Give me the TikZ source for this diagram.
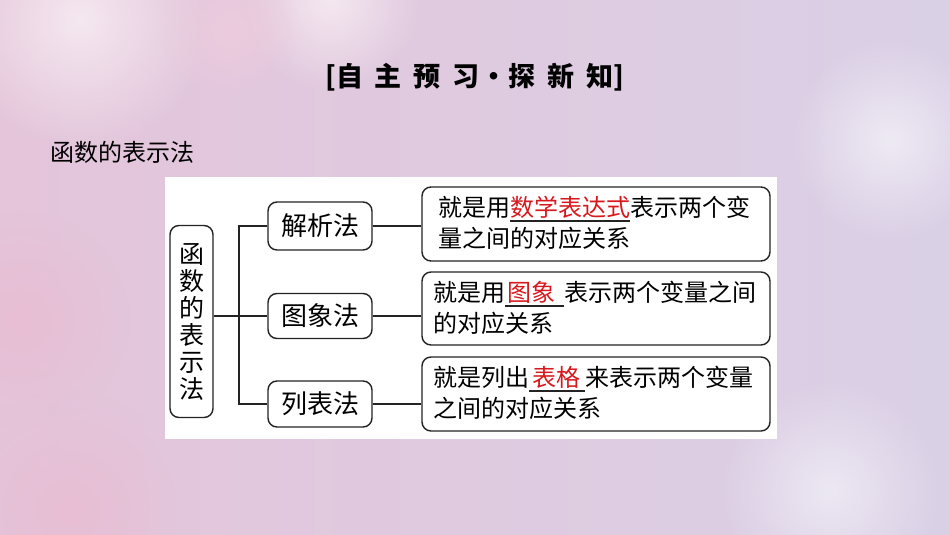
\documentclass[tikz,border=0pt]{standalone}
\usepackage{fontspec}
\newfontfamily\cjk{Noto Sans CJK SC}
\usetikzlibrary{fadings}
\tikzfading[name=softfade, inner color=transparent!0, outer color=transparent!100]
\definecolor{bgA}{RGB}{222,207,227}
\definecolor{bgB}{RGB}{218,208,230}
\definecolor{bgPink}{RGB}{232,190,212}
\definecolor{bgWhite}{RGB}{245,232,240}
\definecolor{lineC}{RGB}{35,35,35}
\definecolor{redT}{RGB}{215,25,30}
\tikzset{
  rbox/.style={draw=lineC, line width=1.4pt, rounded corners=9pt, fill=white},
  conn/.style={draw=lineC, line width=1.3pt},
  desc/.style={font=\cjk\fontsize{24}{31}\selectfont, align=left, anchor=north west, inner sep=0pt},
}
\newcommand{\ulred}[3]{\leavevmode\setbox0\hbox{\hspace{#1}\textcolor{redT}{#3}\hspace{#2}}\rlap{\color{lineC}\rule[-5pt]{\wd0}{1.1pt}}\box0}
\begin{document}
\begin{tikzpicture}[x=1pt,y=-1pt]
\useasboundingbox (0,0) rectangle (950,535);
% background
\shade[left color=bgPink!60!bgA, right color=bgB] (0,0) rectangle (950,535);
\fill[bgWhite, path fading=softfade] (80,20) circle (130);
\fill[bgWhite, path fading=softfade] (330,0) circle (90);
\fill[bgPink, path fading=softfade] (20,320) circle (110);
\fill[bgPink, path fading=softfade] (70,510) circle (120);
\fill[bgPink!80!white, path fading=softfade] (230,30) circle (70);
\fill[white!55!bgB, path fading=softfade] (890,140) circle (100);
\fill[white!50!bgB, path fading=softfade] (830,490) circle (110);
% title
\node (title) at (475,77) {\cjk\bfseries\fontsize{27}{30}\selectfont [自\hspace{12pt}主\hspace{12pt}预\hspace{12pt}习\hspace{1pt}·\hspace{1pt}探\hspace{12pt}新\hspace{12pt}知]};
\node[anchor=west, inner sep=0pt] (head) at (50,152) {\cjk\fontsize{24}{28}\selectfont 函数的表示法};
% panel
\fill[white] (165,177) rectangle (777,439);
% left box
\node[rbox, minimum width=43pt, minimum height=192pt, inner sep=0pt, align=center,
  font=\cjk\fontsize{25}{27}\selectfont] (root) at (191.5,321.5)
  {函\\数\\的\\表\\示\\法};
% middle boxes
\node[rbox, minimum width=104pt, minimum height=48pt, inner sep=0pt] (m1) at (320,226) {\cjk\fontsize{26}{28}\selectfont 解析法};
\node[rbox, minimum width=104pt, minimum height=45pt, inner sep=0pt] (m2) at (320,316) {\cjk\fontsize{26}{28}\selectfont 图象法};
\node[rbox, minimum width=104pt, minimum height=46pt, inner sep=0pt] (m3) at (320,404) {\cjk\fontsize{26}{28}\selectfont 列表法};
% right boxes
\node[rbox, minimum width=348pt, minimum height=74pt, inner sep=0pt] (r1) at (596,224) {};
\node[rbox, minimum width=348pt, minimum height=73pt, inner sep=0pt] (r2) at (596,308.5) {};
\node[rbox, minimum width=348pt, minimum height=74pt, inner sep=0pt] (r3) at (596,394) {};
\node[desc] (t1) at (438,196) {就是用\ulred{0pt}{0pt}{数学表达式}表示两个变\\量之间的对应关系};
\node[desc] (t2) at (433,281) {就是用\ulred{2pt}{9pt}{图象}表示两个变量之间\\的对应关系};
\node[desc] (t3) at (433,366) {就是列出\ulred{3pt}{5pt}{表格}来表示两个变量\\之间的对应关系};
% connectors
\coordinate (trunk) at (239,316);
\draw[conn] (root.east |- trunk) -- (trunk);
\draw[conn] (m1.west) -| (trunk) |- (m3.west);
\draw[conn] (trunk) -- (m2.west);
\draw[conn] (m1.east) -- (r1.west |- m1.east);
\draw[conn] (m2.east) -- (r2.west |- m2.east);
\draw[conn] (m3.east) -- (r3.west |- m3.east);
\end{tikzpicture}
\end{document}
